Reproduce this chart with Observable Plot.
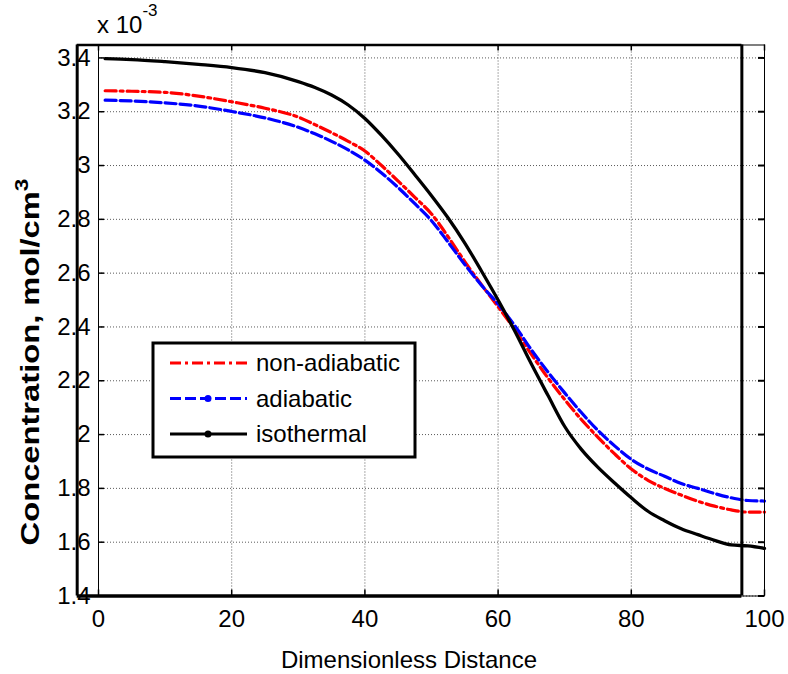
<!DOCTYPE html>
<html><head><meta charset="utf-8">
<script src="https://cdn.jsdelivr.net/npm/d3@7"></script>
<script src="https://cdn.jsdelivr.net/npm/@observablehq/plot@0.6"></script>
<style>
body{margin:0;background:#fff}
svg{font-family:"Liberation Sans",Arial,sans-serif}
</style>
</head><body><div id="chart"></div>
<script>
// ---- data ----
const distance = [1,5,10,15,20,25,30,32.5,35,37.5,40,42.5,45,47.5,50,52.5,55,57.5,60,62.5,65,67.5,70,72.5,75,77.5,80,82.5,85,87.5,90,92.5,95,97.5,100];
const isothermal = [3.397,3.394,3.386,3.376,3.364,3.345,3.312,3.29,3.262,3.225,3.175,3.112,3.042,2.966,2.888,2.805,2.712,2.608,2.50,2.385,2.262,2.145,2.03,1.945,1.878,1.82,1.765,1.715,1.68,1.65,1.628,1.607,1.59,1.586,1.577];
const nonAdiabatic = [3.278,3.276,3.272,3.258,3.237,3.213,3.18,3.152,3.122,3.09,3.054,3.0,2.942,2.882,2.82,2.735,2.643,2.557,2.475,2.39,2.298,2.21,2.13,2.056,1.99,1.928,1.872,1.83,1.80,1.775,1.752,1.734,1.72,1.712,1.712];
const adiabatic = [3.243,3.240,3.233,3.221,3.201,3.177,3.142,3.118,3.09,3.058,3.02,2.972,2.918,2.858,2.795,2.715,2.632,2.555,2.485,2.405,2.315,2.232,2.155,2.082,2.015,1.958,1.908,1.872,1.845,1.818,1.80,1.781,1.765,1.755,1.753];
const seriesNames = ["non-adiabatic","adiabatic","isothermal"];
const xTicks = [0,20,40,60,80,100];
const yTicks = [1.4,1.6,1.8,2.0,2.2,2.4,2.6,2.8,3.0,3.2,3.4];
const yTickLabels = ["1.4","1.6","1.8","2","2.2","2.4","2.6","2.8","3","3.2","3.4"];
const xLabel = "Dimensionless Distance";
const yLabel = "Concentration, mol/cm";
const yLabelSup = "3";
const exponentBase = "x 10";
const exponentSup = "-3";
const outerBoxX = [-3.2, 96.6]; // second (overlaid) axes box visible in the figure

// ---- styles ----
const colors = {"non-adiabatic":"#ff0000","adiabatic":"#0000ff","isothermal":"#000000"};
const dashes = {"non-adiabatic":"11,4,3,4","adiabatic":"11,4","isothermal":null};
const W = 788, H = 674;
const mL = 98, mR = 24, mT = 44.5, mB = 78.5;
const yDomain = [1.4, 3.448];
const innerW = W - mL - mR, innerH = H - mT - mB;

const seriesValues = {"non-adiabatic":nonAdiabatic,"adiabatic":adiabatic,"isothermal":isothermal};
const rows = [];
for (const s of seriesNames) distance.forEach((d,i)=>rows.push({x:d,y:seriesValues[s][i],s}));

const fontSize = 24;
const grid = {stroke:"#5a5a5a", strokeWidth:1, strokeDasharray:"1,2", strokeOpacity:1};

const svg = Plot.plot({
  width: W, height: H,
  marginLeft: mL, marginRight: mR, marginTop: mT, marginBottom: mB,
  style: {fontFamily:'"Liberation Sans",Arial,sans-serif', background:"#fff", overflow:"visible"},
  x: {domain:[0,100]},
  y: {domain: yDomain},
  marks: [
    Plot.ruleX(xTicks, {...grid, y1: yDomain[0], y2: yDomain[1]}),
    Plot.ruleY(yTicks, {...grid, x1: 0, x2: 100}),
    ...seriesNames.map(s => Plot.line(rows.filter(r=>r.s===s), {
      x:"x", y:"y", stroke: colors[s], strokeWidth: s==="isothermal" ? 3.3 : 3.2,
      strokeDasharray: dashes[s] ?? undefined, curve:"monotone-x", strokeLinejoin:"round"
    })),
    Plot.frame({stroke:"#000", strokeWidth:1}),
    // inward ticks
    Plot.tickY(yTicks, {y: d=>d, insetRight: innerW-6, stroke:"#000", strokeWidth:1.5}),
    Plot.tickY(yTicks, {y: d=>d, insetLeft: innerW-6, stroke:"#000", strokeWidth:2}),
    Plot.tickX(xTicks, {x: d=>d, insetTop: innerH-6, stroke:"#000", strokeWidth:1.5}),
    Plot.tickX(xTicks, {x: d=>d, insetBottom: innerH-6, stroke:"#000", strokeWidth:1.5}),
    // overlaid outer box
    Plot.ruleX(outerBoxX, {y1: yDomain[0], y2: yDomain[1], stroke:"#000", strokeWidth:3}),
    Plot.ruleY([yDomain[0]], {x1: outerBoxX[0], x2: outerBoxX[1], stroke:"#000", strokeWidth:3.5}),
    Plot.ruleY([yDomain[1]], {x1: outerBoxX[0], x2: outerBoxX[1], stroke:"#000", strokeWidth:2.5}),
    Plot.axisX(xTicks, {tickSize:0, tickPadding:14, fontSize, fill:"#000", label:null}),
    Plot.axisY(yTicks, {tickSize:0, tickPadding:8, fontSize, fill:"#000", label:null,
      tickFormat: d => yTickLabels[yTicks.indexOf(d)]})
  ]
});
document.getElementById("chart").appendChild(svg);

const sel = d3.select(svg);

// exponent label
const ex = sel.append("text").attr("x", 97).attr("y", 33).attr("text-anchor","start")
  .attr("font-size", 24).attr("fill","#000");
ex.append("tspan").text(exponentBase);
ex.append("tspan").attr("dy", -17).attr("font-size", 17).text(exponentSup);

// x label (centered on outer box)
const xc = (mL + (outerBoxX[0]/100)*innerW + mL + (outerBoxX[1]/100)*innerW)/2;
sel.append("text").attr("x", xc).attr("y", 668).attr("text-anchor","middle")
  .attr("font-size", 24).attr("fill","#000").text(xLabel);

// y label
const yl = sel.append("text").attr("text-anchor","middle").attr("font-size", 26)
  .attr("font-weight","bold").attr("fill","#000");
yl.append("tspan").text(yLabel);
yl.append("tspan").attr("dy", -11).attr("font-size", 18).text(yLabelSup);
const ylLen = yl.node().getComputedTextLength() || 300;
const k = 367 / ylLen;
yl.attr("transform", `translate(39,362) rotate(-90) scale(${k},1)`);

// legend
const lg = sel.append("g").attr("text-anchor","start");
lg.append("rect").attr("x",153).attr("y",343).attr("width",262).attr("height",114)
  .attr("fill","#fff").attr("stroke","#000").attr("stroke-width",3);
seriesNames.forEach((s,i)=>{
  const y = 363 + i*35.5;
  lg.append("line").attr("x1",170).attr("x2",247).attr("y1",y).attr("y2",y)
    .attr("stroke",colors[s]).attr("stroke-width",3)
    .attr("stroke-dasharray", dashes[s] || null);
  if (s !== "non-adiabatic") lg.append("circle").attr("cx",208).attr("cy",y).attr("r",3.5).attr("fill",colors[s]);
  lg.append("text").attr("x",256).attr("y",y).attr("dy","0.35em").attr("font-size",24)
    .attr("fill","#000").text(s);
});
</script>
</body></html>
